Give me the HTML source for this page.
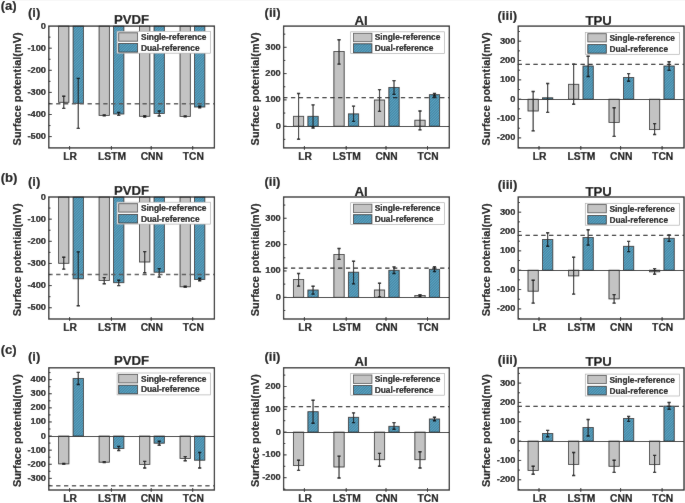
<!DOCTYPE html><html><head><meta charset="utf-8"><style>html,body{margin:0;padding:0;background:#fff;}svg{display:block;will-change:transform;}text{font-family:"Liberation Sans", sans-serif;font-weight:bold;fill:#000;stroke:#000;stroke-width:0.15;}</style></head><body>
<svg width="685" height="503" viewBox="0 0 685 503">
<defs><filter id="soft" x="0" y="0" width="1" height="1"><feConvolveMatrix order="3" kernelMatrix="0.0150 0.0300 0.0150 0.0300 0.8200 0.0300 0.0150 0.0300 0.0150" edgeMode="duplicate" preserveAlpha="true"/></filter></defs><g filter="url(#soft)">
<defs><pattern id="hatch" patternUnits="userSpaceOnUse" width="1.9" height="1.9" patternTransform="rotate(45)"><rect width="1.9" height="1.9" fill="#5aa2c0"/><rect width="0.7" height="1.9" fill="#3e7e9b"/></pattern></defs>
<rect width="685" height="503" fill="#fff"/>
<g><rect x="58.6" y="26.1" width="10.3" height="76.2" fill="#c3c3c3" stroke="#2b2b2b" stroke-width="0.85"/><rect x="73.1" y="26.1" width="10.3" height="77.2" fill="url(#hatch)" stroke="#2b2b2b" stroke-width="0.85"/><rect x="99.08" y="26.1" width="10.3" height="89.3" fill="#c3c3c3" stroke="#2b2b2b" stroke-width="0.85"/><rect x="113.58" y="26.1" width="10.3" height="87.9" fill="url(#hatch)" stroke="#2b2b2b" stroke-width="0.85"/><rect x="139.56" y="26.1" width="10.3" height="90.2" fill="#c3c3c3" stroke="#2b2b2b" stroke-width="0.85"/><rect x="154.06" y="26.1" width="10.3" height="87.4" fill="url(#hatch)" stroke="#2b2b2b" stroke-width="0.85"/><rect x="180.04" y="26.1" width="10.3" height="90.3" fill="#c3c3c3" stroke="#2b2b2b" stroke-width="0.85"/><rect x="194.54" y="26.1" width="10.3" height="80.9" fill="url(#hatch)" stroke="#2b2b2b" stroke-width="0.85"/><path d="M63.75 96.3V108.4" stroke="#222" stroke-width="1.15" fill="none"/><path d="M62.15 96.3h3.2M62.15 108.4h3.2" stroke="#111" stroke-width="1.4" fill="none"/><path d="M78.25 78.4V128.4" stroke="#222" stroke-width="1.15" fill="none"/><path d="M76.65 78.4h3.2M76.65 128.4h3.2" stroke="#111" stroke-width="1.4" fill="none"/><path d="M104.23 114.9V115.9" stroke="#222" stroke-width="1.15" fill="none"/><path d="M102.63 114.9h3.2M102.63 115.9h3.2" stroke="#111" stroke-width="1.4" fill="none"/><path d="M118.73 112.4V115.4" stroke="#222" stroke-width="1.15" fill="none"/><path d="M117.13 112.4h3.2M117.13 115.4h3.2" stroke="#111" stroke-width="1.4" fill="none"/><path d="M144.71 115.6V117" stroke="#222" stroke-width="1.15" fill="none"/><path d="M143.11 115.6h3.2M143.11 117h3.2" stroke="#111" stroke-width="1.4" fill="none"/><path d="M159.21 111V116" stroke="#222" stroke-width="1.15" fill="none"/><path d="M157.61 111h3.2M157.61 116h3.2" stroke="#111" stroke-width="1.4" fill="none"/><path d="M185.19 116V116.8" stroke="#222" stroke-width="1.15" fill="none"/><path d="M183.59 116h3.2M183.59 116.8h3.2" stroke="#111" stroke-width="1.4" fill="none"/><path d="M199.69 106.2V107.8" stroke="#222" stroke-width="1.15" fill="none"/><path d="M198.09 106.2h3.2M198.09 107.8h3.2" stroke="#111" stroke-width="1.4" fill="none"/><line x1="48.3" y1="103.7" x2="214.4" y2="103.7" stroke="#5a5a5a" stroke-width="1.5" stroke-dasharray="4.3 3.55"/><rect x="117.1" y="31.3" width="93.4" height="21.9" fill="#fff" stroke="#b0b0b0" stroke-width="0.7"/><rect x="118.7" y="32.8" width="18.9" height="8.4" fill="#c3c3c3" stroke="#555" stroke-width="0.85"/><rect x="118.7" y="43.5" width="18.9" height="8.6" fill="url(#hatch)" stroke="#333" stroke-width="0.85"/><text x="140.9" y="39.8" font-size="8.4" text-anchor="start">Single-reference</text><text x="140.9" y="50.7" font-size="8.4" text-anchor="start">Dual-reference</text><rect x="48.8" y="26.1" width="165.6" height="121.8" fill="none" stroke="#222" stroke-width="1.3"/><line x1="48.8" y1="136.6" x2="51.8" y2="136.6" stroke="#222" stroke-width="1"/><line x1="48.8" y1="125.55" x2="50.5" y2="125.55" stroke="#222" stroke-width="1"/><line x1="48.8" y1="114.5" x2="51.8" y2="114.5" stroke="#222" stroke-width="1"/><line x1="48.8" y1="103.45" x2="50.5" y2="103.45" stroke="#222" stroke-width="1"/><line x1="48.8" y1="92.4" x2="51.8" y2="92.4" stroke="#222" stroke-width="1"/><line x1="48.8" y1="81.35" x2="50.5" y2="81.35" stroke="#222" stroke-width="1"/><line x1="48.8" y1="70.3" x2="51.8" y2="70.3" stroke="#222" stroke-width="1"/><line x1="48.8" y1="59.25" x2="50.5" y2="59.25" stroke="#222" stroke-width="1"/><line x1="48.8" y1="48.2" x2="51.8" y2="48.2" stroke="#222" stroke-width="1"/><line x1="48.8" y1="37.15" x2="50.5" y2="37.15" stroke="#222" stroke-width="1"/><text x="46" y="139.1" font-size="9.3" text-anchor="end">-500</text><text x="46" y="117" font-size="9.3" text-anchor="end">-400</text><text x="46" y="94.9" font-size="9.3" text-anchor="end">-300</text><text x="46" y="72.8" font-size="9.3" text-anchor="end">-200</text><text x="46" y="50.7" font-size="9.3" text-anchor="end">-100</text><text x="46" y="28.6" font-size="9.3" text-anchor="end">0</text><line x1="69.6" y1="146" x2="69.6" y2="149.8" stroke="#222" stroke-width="1"/><text x="70.2" y="159.8" font-size="10.3" text-anchor="middle">LR</text><line x1="111.4" y1="146" x2="111.4" y2="149.8" stroke="#222" stroke-width="1"/><text x="112" y="159.8" font-size="10.3" text-anchor="middle">LSTM</text><line x1="151.2" y1="146" x2="151.2" y2="149.8" stroke="#222" stroke-width="1"/><text x="151.8" y="159.8" font-size="10.3" text-anchor="middle">CNN</text><line x1="192.7" y1="146" x2="192.7" y2="149.8" stroke="#222" stroke-width="1"/><text x="193.3" y="159.8" font-size="10.3" text-anchor="middle">TCN</text><text x="131.5" y="23.7" font-size="13.2" text-anchor="middle">PVDF</text><text x="28" y="16.6" font-size="13.1" text-anchor="start">(i)</text><text x="0" y="0" font-size="10.95" text-anchor="middle" transform="translate(20.9 88.9) rotate(-90)">Surface potential(mV)</text></g>
<g><rect x="293.4" y="116.3" width="10.3" height="9.9" fill="#c3c3c3" stroke="#2b2b2b" stroke-width="0.85"/><rect x="307.9" y="116.3" width="10.3" height="9.9" fill="url(#hatch)" stroke="#2b2b2b" stroke-width="0.85"/><rect x="333.88" y="51.5" width="10.3" height="74.7" fill="#c3c3c3" stroke="#2b2b2b" stroke-width="0.85"/><rect x="348.38" y="113.9" width="10.3" height="12.3" fill="url(#hatch)" stroke="#2b2b2b" stroke-width="0.85"/><rect x="374.36" y="100" width="10.3" height="26.2" fill="#c3c3c3" stroke="#2b2b2b" stroke-width="0.85"/><rect x="388.86" y="87.4" width="10.3" height="38.8" fill="url(#hatch)" stroke="#2b2b2b" stroke-width="0.85"/><rect x="414.84" y="120.2" width="10.3" height="6" fill="#c3c3c3" stroke="#2b2b2b" stroke-width="0.85"/><rect x="429.34" y="94.7" width="10.3" height="31.5" fill="url(#hatch)" stroke="#2b2b2b" stroke-width="0.85"/><line x1="283.6" y1="126.5" x2="449.3" y2="126.5" stroke="#111" stroke-width="1.1"/><path d="M298.55 93.5V139.3" stroke="#222" stroke-width="1.15" fill="none"/><path d="M296.95 93.5h3.2M296.95 139.3h3.2" stroke="#111" stroke-width="1.4" fill="none"/><path d="M313.05 104.9V128" stroke="#222" stroke-width="1.15" fill="none"/><path d="M311.45 104.9h3.2M311.45 128h3.2" stroke="#111" stroke-width="1.4" fill="none"/><path d="M339.03 39.8V64.1" stroke="#222" stroke-width="1.15" fill="none"/><path d="M337.43 39.8h3.2M337.43 64.1h3.2" stroke="#111" stroke-width="1.4" fill="none"/><path d="M353.53 106.1V121.4" stroke="#222" stroke-width="1.15" fill="none"/><path d="M351.93 106.1h3.2M351.93 121.4h3.2" stroke="#111" stroke-width="1.4" fill="none"/><path d="M379.51 89.6V111.4" stroke="#222" stroke-width="1.15" fill="none"/><path d="M377.91 89.6h3.2M377.91 111.4h3.2" stroke="#111" stroke-width="1.4" fill="none"/><path d="M394.01 80.6V94.4" stroke="#222" stroke-width="1.15" fill="none"/><path d="M392.41 80.6h3.2M392.41 94.4h3.2" stroke="#111" stroke-width="1.4" fill="none"/><path d="M419.99 111V129.9" stroke="#222" stroke-width="1.15" fill="none"/><path d="M418.39 111h3.2M418.39 129.9h3.2" stroke="#111" stroke-width="1.4" fill="none"/><path d="M434.49 93.5V96" stroke="#222" stroke-width="1.15" fill="none"/><path d="M432.89 93.5h3.2M432.89 96h3.2" stroke="#111" stroke-width="1.4" fill="none"/><line x1="283.1" y1="97.7" x2="449.3" y2="97.7" stroke="#1e1e1e" stroke-width="1.25" stroke-dasharray="4.3 3.55"/><rect x="350.7" y="31.8" width="93.9" height="21.7" fill="#fff" stroke="#b0b0b0" stroke-width="0.7"/><rect x="353.5" y="33.3" width="18.4" height="8.4" fill="#c3c3c3" stroke="#555" stroke-width="0.85"/><rect x="353.5" y="43.8" width="18.4" height="8.9" fill="url(#hatch)" stroke="#333" stroke-width="0.85"/><text x="374.7" y="40.3" font-size="8.4" text-anchor="start">Single-reference</text><text x="374.7" y="51.2" font-size="8.4" text-anchor="start">Dual-reference</text><rect x="283.6" y="26.1" width="165.7" height="121.8" fill="none" stroke="#222" stroke-width="1.3"/><line x1="283.6" y1="139.35" x2="285.3" y2="139.35" stroke="#222" stroke-width="1"/><line x1="283.6" y1="126.2" x2="286.6" y2="126.2" stroke="#222" stroke-width="1"/><line x1="283.6" y1="113.05" x2="285.3" y2="113.05" stroke="#222" stroke-width="1"/><line x1="283.6" y1="99.9" x2="286.6" y2="99.9" stroke="#222" stroke-width="1"/><line x1="283.6" y1="86.75" x2="285.3" y2="86.75" stroke="#222" stroke-width="1"/><line x1="283.6" y1="73.6" x2="286.6" y2="73.6" stroke="#222" stroke-width="1"/><line x1="283.6" y1="60.45" x2="285.3" y2="60.45" stroke="#222" stroke-width="1"/><line x1="283.6" y1="47.3" x2="286.6" y2="47.3" stroke="#222" stroke-width="1"/><line x1="283.6" y1="34.15" x2="285.3" y2="34.15" stroke="#222" stroke-width="1"/><text x="280.8" y="128.7" font-size="9.3" text-anchor="end">0</text><text x="280.8" y="102.4" font-size="9.3" text-anchor="end">100</text><text x="280.8" y="76.1" font-size="9.3" text-anchor="end">200</text><text x="280.8" y="49.8" font-size="9.3" text-anchor="end">300</text><line x1="304.4" y1="146" x2="304.4" y2="149.8" stroke="#222" stroke-width="1"/><text x="305" y="159.8" font-size="10.3" text-anchor="middle">LR</text><line x1="346.2" y1="146" x2="346.2" y2="149.8" stroke="#222" stroke-width="1"/><text x="346.8" y="159.8" font-size="10.3" text-anchor="middle">LSTM</text><line x1="386" y1="146" x2="386" y2="149.8" stroke="#222" stroke-width="1"/><text x="386.6" y="159.8" font-size="10.3" text-anchor="middle">CNN</text><line x1="427.5" y1="146" x2="427.5" y2="149.8" stroke="#222" stroke-width="1"/><text x="428.1" y="159.8" font-size="10.3" text-anchor="middle">TCN</text><text x="361.2" y="24.6" font-size="13.2" text-anchor="middle">Al</text><text x="264.6" y="16.6" font-size="13.1" text-anchor="start">(ii)</text><text x="0" y="0" font-size="10.95" text-anchor="middle" transform="translate(258.6 88.9) rotate(-90)">Surface potential(mV)</text></g>
<g><rect x="528" y="99.2" width="10.3" height="11.8" fill="#c3c3c3" stroke="#2b2b2b" stroke-width="0.85"/><rect x="542.5" y="97.8" width="10.3" height="1.4" fill="url(#hatch)" stroke="#2b2b2b" stroke-width="0.85"/><rect x="568.48" y="84.3" width="10.3" height="14.9" fill="#c3c3c3" stroke="#2b2b2b" stroke-width="0.85"/><rect x="582.98" y="66" width="10.3" height="33.2" fill="url(#hatch)" stroke="#2b2b2b" stroke-width="0.85"/><rect x="608.96" y="99.2" width="10.3" height="23.2" fill="#c3c3c3" stroke="#2b2b2b" stroke-width="0.85"/><rect x="623.46" y="77.5" width="10.3" height="21.7" fill="url(#hatch)" stroke="#2b2b2b" stroke-width="0.85"/><rect x="649.44" y="99.2" width="10.3" height="30.4" fill="#c3c3c3" stroke="#2b2b2b" stroke-width="0.85"/><rect x="663.94" y="66" width="10.3" height="33.2" fill="url(#hatch)" stroke="#2b2b2b" stroke-width="0.85"/><line x1="518.2" y1="99.5" x2="684" y2="99.5" stroke="#111" stroke-width="1.1"/><path d="M533.15 91.5V130.9" stroke="#222" stroke-width="1.15" fill="none"/><path d="M531.55 91.5h3.2M531.55 130.9h3.2" stroke="#111" stroke-width="1.4" fill="none"/><path d="M547.65 83.5V112.4" stroke="#222" stroke-width="1.15" fill="none"/><path d="M546.05 83.5h3.2M546.05 112.4h3.2" stroke="#111" stroke-width="1.4" fill="none"/><path d="M573.63 64.3V104.2" stroke="#222" stroke-width="1.15" fill="none"/><path d="M572.03 64.3h3.2M572.03 104.2h3.2" stroke="#111" stroke-width="1.4" fill="none"/><path d="M588.13 56.3V76.5" stroke="#222" stroke-width="1.15" fill="none"/><path d="M586.53 56.3h3.2M586.53 76.5h3.2" stroke="#111" stroke-width="1.4" fill="none"/><path d="M614.11 107.8V136.4" stroke="#222" stroke-width="1.15" fill="none"/><path d="M612.51 107.8h3.2M612.51 136.4h3.2" stroke="#111" stroke-width="1.4" fill="none"/><path d="M628.61 73.6V81.3" stroke="#222" stroke-width="1.15" fill="none"/><path d="M627.01 73.6h3.2M627.01 81.3h3.2" stroke="#111" stroke-width="1.4" fill="none"/><path d="M654.59 123.6V134.5" stroke="#222" stroke-width="1.15" fill="none"/><path d="M652.99 123.6h3.2M652.99 134.5h3.2" stroke="#111" stroke-width="1.4" fill="none"/><path d="M669.09 61.7V70.4" stroke="#222" stroke-width="1.15" fill="none"/><path d="M667.49 61.7h3.2M667.49 70.4h3.2" stroke="#111" stroke-width="1.4" fill="none"/><line x1="517.7" y1="64.3" x2="684" y2="64.3" stroke="#1e1e1e" stroke-width="1.25" stroke-dasharray="4.3 3.55"/><rect x="585.3" y="32.4" width="94.3" height="21.9" fill="#fff" stroke="#b0b0b0" stroke-width="0.7"/><rect x="587.8" y="33.7" width="18.5" height="8.2" fill="#c3c3c3" stroke="#555" stroke-width="0.85"/><rect x="587.8" y="44.6" width="18.5" height="8.6" fill="url(#hatch)" stroke="#333" stroke-width="0.85"/><text x="609.4" y="40.9" font-size="8.4" text-anchor="start">Single-reference</text><text x="609.4" y="51.8" font-size="8.4" text-anchor="start">Dual-reference</text><rect x="518.2" y="26.1" width="165.8" height="121.8" fill="none" stroke="#222" stroke-width="1.3"/><line x1="518.2" y1="147.55" x2="519.9" y2="147.55" stroke="#222" stroke-width="1"/><line x1="518.2" y1="137.88" x2="521.2" y2="137.88" stroke="#222" stroke-width="1"/><line x1="518.2" y1="128.21" x2="519.9" y2="128.21" stroke="#222" stroke-width="1"/><line x1="518.2" y1="118.54" x2="521.2" y2="118.54" stroke="#222" stroke-width="1"/><line x1="518.2" y1="108.87" x2="519.9" y2="108.87" stroke="#222" stroke-width="1"/><line x1="518.2" y1="99.2" x2="521.2" y2="99.2" stroke="#222" stroke-width="1"/><line x1="518.2" y1="89.53" x2="519.9" y2="89.53" stroke="#222" stroke-width="1"/><line x1="518.2" y1="79.86" x2="521.2" y2="79.86" stroke="#222" stroke-width="1"/><line x1="518.2" y1="70.19" x2="519.9" y2="70.19" stroke="#222" stroke-width="1"/><line x1="518.2" y1="60.52" x2="521.2" y2="60.52" stroke="#222" stroke-width="1"/><line x1="518.2" y1="50.85" x2="519.9" y2="50.85" stroke="#222" stroke-width="1"/><line x1="518.2" y1="41.18" x2="521.2" y2="41.18" stroke="#222" stroke-width="1"/><line x1="518.2" y1="31.51" x2="519.9" y2="31.51" stroke="#222" stroke-width="1"/><text x="515.4" y="140.38" font-size="9.3" text-anchor="end">-200</text><text x="515.4" y="121.04" font-size="9.3" text-anchor="end">-100</text><text x="515.4" y="101.7" font-size="9.3" text-anchor="end">0</text><text x="515.4" y="82.36" font-size="9.3" text-anchor="end">100</text><text x="515.4" y="63.02" font-size="9.3" text-anchor="end">200</text><text x="515.4" y="43.68" font-size="9.3" text-anchor="end">300</text><line x1="539" y1="146" x2="539" y2="149.8" stroke="#222" stroke-width="1"/><text x="539.6" y="159.8" font-size="10.3" text-anchor="middle">LR</text><line x1="580.8" y1="146" x2="580.8" y2="149.8" stroke="#222" stroke-width="1"/><text x="581.4" y="159.8" font-size="10.3" text-anchor="middle">LSTM</text><line x1="620.6" y1="146" x2="620.6" y2="149.8" stroke="#222" stroke-width="1"/><text x="621.2" y="159.8" font-size="10.3" text-anchor="middle">CNN</text><line x1="662.1" y1="146" x2="662.1" y2="149.8" stroke="#222" stroke-width="1"/><text x="662.7" y="159.8" font-size="10.3" text-anchor="middle">TCN</text><text x="598.7" y="24.6" font-size="13.2" text-anchor="middle">TPU</text><text x="497.5" y="19.8" font-size="13.1" text-anchor="start">(iii)</text><text x="0" y="0" font-size="10.95" text-anchor="middle" transform="translate(489.6 88.9) rotate(-90)">Surface potential(mV)</text></g>
<text x="0.7" y="9.5" font-size="13.1" text-anchor="start">(a)</text>
<g><rect x="58.6" y="197" width="10.3" height="66.3" fill="#c3c3c3" stroke="#2b2b2b" stroke-width="0.85"/><rect x="73.1" y="197" width="10.3" height="81.8" fill="url(#hatch)" stroke="#2b2b2b" stroke-width="0.85"/><rect x="99.08" y="197" width="10.3" height="83.5" fill="#c3c3c3" stroke="#2b2b2b" stroke-width="0.85"/><rect x="113.58" y="197" width="10.3" height="85.7" fill="url(#hatch)" stroke="#2b2b2b" stroke-width="0.85"/><rect x="139.56" y="197" width="10.3" height="65" fill="#c3c3c3" stroke="#2b2b2b" stroke-width="0.85"/><rect x="154.06" y="197" width="10.3" height="75.2" fill="url(#hatch)" stroke="#2b2b2b" stroke-width="0.85"/><rect x="180.04" y="197" width="10.3" height="89.8" fill="#c3c3c3" stroke="#2b2b2b" stroke-width="0.85"/><rect x="194.54" y="197" width="10.3" height="82.5" fill="url(#hatch)" stroke="#2b2b2b" stroke-width="0.85"/><path d="M63.75 257.2V269.1" stroke="#222" stroke-width="1.15" fill="none"/><path d="M62.15 257.2h3.2M62.15 269.1h3.2" stroke="#111" stroke-width="1.4" fill="none"/><path d="M78.25 251.9V305.7" stroke="#222" stroke-width="1.15" fill="none"/><path d="M76.65 251.9h3.2M76.65 305.7h3.2" stroke="#111" stroke-width="1.4" fill="none"/><path d="M104.23 277.6V283.7" stroke="#222" stroke-width="1.15" fill="none"/><path d="M102.63 277.6h3.2M102.63 283.7h3.2" stroke="#111" stroke-width="1.4" fill="none"/><path d="M118.73 280.3V285.6" stroke="#222" stroke-width="1.15" fill="none"/><path d="M117.13 280.3h3.2M117.13 285.6h3.2" stroke="#111" stroke-width="1.4" fill="none"/><path d="M144.71 251.6V272.7" stroke="#222" stroke-width="1.15" fill="none"/><path d="M143.11 251.6h3.2M143.11 272.7h3.2" stroke="#111" stroke-width="1.4" fill="none"/><path d="M159.21 268.6V277.1" stroke="#222" stroke-width="1.15" fill="none"/><path d="M157.61 268.6h3.2M157.61 277.1h3.2" stroke="#111" stroke-width="1.4" fill="none"/><path d="M185.19 286.3V287.3" stroke="#222" stroke-width="1.15" fill="none"/><path d="M183.59 286.3h3.2M183.59 287.3h3.2" stroke="#111" stroke-width="1.4" fill="none"/><path d="M199.69 278.3V280.7" stroke="#222" stroke-width="1.15" fill="none"/><path d="M198.09 278.3h3.2M198.09 280.7h3.2" stroke="#111" stroke-width="1.4" fill="none"/><line x1="48.3" y1="274.6" x2="214.4" y2="274.6" stroke="#5a5a5a" stroke-width="1.5" stroke-dasharray="4.3 3.55"/><rect x="117.1" y="202.2" width="93.4" height="21.9" fill="#fff" stroke="#b0b0b0" stroke-width="0.7"/><rect x="118.7" y="203.7" width="18.9" height="8.4" fill="#c3c3c3" stroke="#555" stroke-width="0.85"/><rect x="118.7" y="214.4" width="18.9" height="8.6" fill="url(#hatch)" stroke="#333" stroke-width="0.85"/><text x="140.9" y="210.7" font-size="8.4" text-anchor="start">Single-reference</text><text x="140.9" y="221.6" font-size="8.4" text-anchor="start">Dual-reference</text><rect x="48.8" y="197" width="165.6" height="122" fill="none" stroke="#222" stroke-width="1.3"/><line x1="48.8" y1="307.75" x2="51.8" y2="307.75" stroke="#222" stroke-width="1"/><line x1="48.8" y1="296.68" x2="50.5" y2="296.68" stroke="#222" stroke-width="1"/><line x1="48.8" y1="285.6" x2="51.8" y2="285.6" stroke="#222" stroke-width="1"/><line x1="48.8" y1="274.52" x2="50.5" y2="274.52" stroke="#222" stroke-width="1"/><line x1="48.8" y1="263.45" x2="51.8" y2="263.45" stroke="#222" stroke-width="1"/><line x1="48.8" y1="252.38" x2="50.5" y2="252.38" stroke="#222" stroke-width="1"/><line x1="48.8" y1="241.3" x2="51.8" y2="241.3" stroke="#222" stroke-width="1"/><line x1="48.8" y1="230.22" x2="50.5" y2="230.22" stroke="#222" stroke-width="1"/><line x1="48.8" y1="219.15" x2="51.8" y2="219.15" stroke="#222" stroke-width="1"/><line x1="48.8" y1="208.07" x2="50.5" y2="208.07" stroke="#222" stroke-width="1"/><text x="46" y="310.25" font-size="9.3" text-anchor="end">-500</text><text x="46" y="288.1" font-size="9.3" text-anchor="end">-400</text><text x="46" y="265.95" font-size="9.3" text-anchor="end">-300</text><text x="46" y="243.8" font-size="9.3" text-anchor="end">-200</text><text x="46" y="221.65" font-size="9.3" text-anchor="end">-100</text><text x="46" y="199.5" font-size="9.3" text-anchor="end">0</text><line x1="69.6" y1="317.1" x2="69.6" y2="320.9" stroke="#222" stroke-width="1"/><text x="70.2" y="330.9" font-size="10.3" text-anchor="middle">LR</text><line x1="111.4" y1="317.1" x2="111.4" y2="320.9" stroke="#222" stroke-width="1"/><text x="112" y="330.9" font-size="10.3" text-anchor="middle">LSTM</text><line x1="151.2" y1="317.1" x2="151.2" y2="320.9" stroke="#222" stroke-width="1"/><text x="151.8" y="330.9" font-size="10.3" text-anchor="middle">CNN</text><line x1="192.7" y1="317.1" x2="192.7" y2="320.9" stroke="#222" stroke-width="1"/><text x="193.3" y="330.9" font-size="10.3" text-anchor="middle">TCN</text><text x="131.5" y="194.6" font-size="13.2" text-anchor="middle">PVDF</text><text x="28" y="185.6" font-size="13.1" text-anchor="start">(i)</text><text x="0" y="0" font-size="10.95" text-anchor="middle" transform="translate(20.9 259.8) rotate(-90)">Surface potential(mV)</text></g>
<g><rect x="293.4" y="279.5" width="10.3" height="17.8" fill="#c3c3c3" stroke="#2b2b2b" stroke-width="0.85"/><rect x="307.9" y="290" width="10.3" height="7.3" fill="url(#hatch)" stroke="#2b2b2b" stroke-width="0.85"/><rect x="333.88" y="254.5" width="10.3" height="42.8" fill="#c3c3c3" stroke="#2b2b2b" stroke-width="0.85"/><rect x="348.38" y="272.2" width="10.3" height="25.1" fill="url(#hatch)" stroke="#2b2b2b" stroke-width="0.85"/><rect x="374.36" y="290" width="10.3" height="7.3" fill="#c3c3c3" stroke="#2b2b2b" stroke-width="0.85"/><rect x="388.86" y="270.3" width="10.3" height="27" fill="url(#hatch)" stroke="#2b2b2b" stroke-width="0.85"/><rect x="414.84" y="295.5" width="10.3" height="1.8" fill="#c3c3c3" stroke="#2b2b2b" stroke-width="0.85"/><rect x="429.34" y="269.3" width="10.3" height="28" fill="url(#hatch)" stroke="#2b2b2b" stroke-width="0.85"/><line x1="283.6" y1="297.5" x2="449.3" y2="297.5" stroke="#111" stroke-width="1.1"/><path d="M298.55 273.5V286.1" stroke="#222" stroke-width="1.15" fill="none"/><path d="M296.95 273.5h3.2M296.95 286.1h3.2" stroke="#111" stroke-width="1.4" fill="none"/><path d="M313.05 286.3V294.1" stroke="#222" stroke-width="1.15" fill="none"/><path d="M311.45 286.3h3.2M311.45 294.1h3.2" stroke="#111" stroke-width="1.4" fill="none"/><path d="M339.03 248.5V259.4" stroke="#222" stroke-width="1.15" fill="none"/><path d="M337.43 248.5h3.2M337.43 259.4h3.2" stroke="#111" stroke-width="1.4" fill="none"/><path d="M353.53 261.3V283.9" stroke="#222" stroke-width="1.15" fill="none"/><path d="M351.93 261.3h3.2M351.93 283.9h3.2" stroke="#111" stroke-width="1.4" fill="none"/><path d="M379.51 283.2V297" stroke="#222" stroke-width="1.15" fill="none"/><path d="M377.91 283.2h3.2M377.91 297h3.2" stroke="#111" stroke-width="1.4" fill="none"/><path d="M394.01 266.9V273.5" stroke="#222" stroke-width="1.15" fill="none"/><path d="M392.41 266.9h3.2M392.41 273.5h3.2" stroke="#111" stroke-width="1.4" fill="none"/><path d="M419.99 294.6V297" stroke="#222" stroke-width="1.15" fill="none"/><path d="M418.39 294.6h3.2M418.39 297h3.2" stroke="#111" stroke-width="1.4" fill="none"/><path d="M434.49 266.7V271.5" stroke="#222" stroke-width="1.15" fill="none"/><path d="M432.89 266.7h3.2M432.89 271.5h3.2" stroke="#111" stroke-width="1.4" fill="none"/><line x1="283.1" y1="268.2" x2="449.3" y2="268.2" stroke="#1e1e1e" stroke-width="1.25" stroke-dasharray="4.3 3.55"/><rect x="350.7" y="202.7" width="93.9" height="21.7" fill="#fff" stroke="#b0b0b0" stroke-width="0.7"/><rect x="353.5" y="204.2" width="18.4" height="8.4" fill="#c3c3c3" stroke="#555" stroke-width="0.85"/><rect x="353.5" y="214.7" width="18.4" height="8.9" fill="url(#hatch)" stroke="#333" stroke-width="0.85"/><text x="374.7" y="211.2" font-size="8.4" text-anchor="start">Single-reference</text><text x="374.7" y="222.1" font-size="8.4" text-anchor="start">Dual-reference</text><rect x="283.6" y="197" width="165.7" height="122" fill="none" stroke="#222" stroke-width="1.3"/><line x1="283.6" y1="310.48" x2="285.3" y2="310.48" stroke="#222" stroke-width="1"/><line x1="283.6" y1="297.3" x2="286.6" y2="297.3" stroke="#222" stroke-width="1"/><line x1="283.6" y1="284.12" x2="285.3" y2="284.12" stroke="#222" stroke-width="1"/><line x1="283.6" y1="270.95" x2="286.6" y2="270.95" stroke="#222" stroke-width="1"/><line x1="283.6" y1="257.77" x2="285.3" y2="257.77" stroke="#222" stroke-width="1"/><line x1="283.6" y1="244.6" x2="286.6" y2="244.6" stroke="#222" stroke-width="1"/><line x1="283.6" y1="231.43" x2="285.3" y2="231.43" stroke="#222" stroke-width="1"/><line x1="283.6" y1="218.25" x2="286.6" y2="218.25" stroke="#222" stroke-width="1"/><line x1="283.6" y1="205.07" x2="285.3" y2="205.07" stroke="#222" stroke-width="1"/><text x="280.8" y="299.8" font-size="9.3" text-anchor="end">0</text><text x="280.8" y="273.45" font-size="9.3" text-anchor="end">100</text><text x="280.8" y="247.1" font-size="9.3" text-anchor="end">200</text><text x="280.8" y="220.75" font-size="9.3" text-anchor="end">300</text><line x1="304.4" y1="317.1" x2="304.4" y2="320.9" stroke="#222" stroke-width="1"/><text x="305" y="330.9" font-size="10.3" text-anchor="middle">LR</text><line x1="346.2" y1="317.1" x2="346.2" y2="320.9" stroke="#222" stroke-width="1"/><text x="346.8" y="330.9" font-size="10.3" text-anchor="middle">LSTM</text><line x1="386" y1="317.1" x2="386" y2="320.9" stroke="#222" stroke-width="1"/><text x="386.6" y="330.9" font-size="10.3" text-anchor="middle">CNN</text><line x1="427.5" y1="317.1" x2="427.5" y2="320.9" stroke="#222" stroke-width="1"/><text x="428.1" y="330.9" font-size="10.3" text-anchor="middle">TCN</text><text x="361.2" y="195.5" font-size="13.2" text-anchor="middle">Al</text><text x="264.4" y="185.9" font-size="13.1" text-anchor="start">(ii)</text><text x="0" y="0" font-size="10.95" text-anchor="middle" transform="translate(258.6 259.8) rotate(-90)">Surface potential(mV)</text></g>
<g><rect x="528" y="270.2" width="10.3" height="21" fill="#c3c3c3" stroke="#2b2b2b" stroke-width="0.85"/><rect x="542.5" y="239.5" width="10.3" height="30.7" fill="url(#hatch)" stroke="#2b2b2b" stroke-width="0.85"/><rect x="568.48" y="270.2" width="10.3" height="5.7" fill="#c3c3c3" stroke="#2b2b2b" stroke-width="0.85"/><rect x="582.98" y="237.5" width="10.3" height="32.7" fill="url(#hatch)" stroke="#2b2b2b" stroke-width="0.85"/><rect x="608.96" y="270.2" width="10.3" height="28.7" fill="#c3c3c3" stroke="#2b2b2b" stroke-width="0.85"/><rect x="623.46" y="246.3" width="10.3" height="23.9" fill="url(#hatch)" stroke="#2b2b2b" stroke-width="0.85"/><rect x="649.44" y="270.2" width="10.3" height="1.6" fill="#c3c3c3" stroke="#2b2b2b" stroke-width="0.85"/><rect x="663.94" y="238.3" width="10.3" height="31.9" fill="url(#hatch)" stroke="#2b2b2b" stroke-width="0.85"/><line x1="518.2" y1="270.5" x2="684" y2="270.5" stroke="#111" stroke-width="1.1"/><path d="M533.15 280.3V303.1" stroke="#222" stroke-width="1.15" fill="none"/><path d="M531.55 280.3h3.2M531.55 303.1h3.2" stroke="#111" stroke-width="1.4" fill="none"/><path d="M547.65 232.7V246.3" stroke="#222" stroke-width="1.15" fill="none"/><path d="M546.05 232.7h3.2M546.05 246.3h3.2" stroke="#111" stroke-width="1.4" fill="none"/><path d="M573.63 257.2V294.1" stroke="#222" stroke-width="1.15" fill="none"/><path d="M572.03 257.2h3.2M572.03 294.1h3.2" stroke="#111" stroke-width="1.4" fill="none"/><path d="M588.13 229.8V245.1" stroke="#222" stroke-width="1.15" fill="none"/><path d="M586.53 229.8h3.2M586.53 245.1h3.2" stroke="#111" stroke-width="1.4" fill="none"/><path d="M614.11 294.6V303.1" stroke="#222" stroke-width="1.15" fill="none"/><path d="M612.51 294.6h3.2M612.51 303.1h3.2" stroke="#111" stroke-width="1.4" fill="none"/><path d="M628.61 241.4V251.6" stroke="#222" stroke-width="1.15" fill="none"/><path d="M627.01 241.4h3.2M627.01 251.6h3.2" stroke="#111" stroke-width="1.4" fill="none"/><path d="M654.59 268.6V274.2" stroke="#222" stroke-width="1.15" fill="none"/><path d="M652.99 268.6h3.2M652.99 274.2h3.2" stroke="#111" stroke-width="1.4" fill="none"/><path d="M669.09 234.9V241.4" stroke="#222" stroke-width="1.15" fill="none"/><path d="M667.49 234.9h3.2M667.49 241.4h3.2" stroke="#111" stroke-width="1.4" fill="none"/><line x1="517.7" y1="235.3" x2="684" y2="235.3" stroke="#1e1e1e" stroke-width="1.25" stroke-dasharray="4.3 3.55"/><rect x="585.3" y="203.3" width="94.3" height="21.9" fill="#fff" stroke="#b0b0b0" stroke-width="0.7"/><rect x="587.8" y="204.6" width="18.5" height="8.2" fill="#c3c3c3" stroke="#555" stroke-width="0.85"/><rect x="587.8" y="215.5" width="18.5" height="8.6" fill="url(#hatch)" stroke="#333" stroke-width="0.85"/><text x="609.4" y="211.8" font-size="8.4" text-anchor="start">Single-reference</text><text x="609.4" y="222.7" font-size="8.4" text-anchor="start">Dual-reference</text><rect x="518.2" y="197" width="165.8" height="122" fill="none" stroke="#222" stroke-width="1.3"/><line x1="518.2" y1="318.55" x2="519.9" y2="318.55" stroke="#222" stroke-width="1"/><line x1="518.2" y1="308.88" x2="521.2" y2="308.88" stroke="#222" stroke-width="1"/><line x1="518.2" y1="299.21" x2="519.9" y2="299.21" stroke="#222" stroke-width="1"/><line x1="518.2" y1="289.54" x2="521.2" y2="289.54" stroke="#222" stroke-width="1"/><line x1="518.2" y1="279.87" x2="519.9" y2="279.87" stroke="#222" stroke-width="1"/><line x1="518.2" y1="270.2" x2="521.2" y2="270.2" stroke="#222" stroke-width="1"/><line x1="518.2" y1="260.53" x2="519.9" y2="260.53" stroke="#222" stroke-width="1"/><line x1="518.2" y1="250.86" x2="521.2" y2="250.86" stroke="#222" stroke-width="1"/><line x1="518.2" y1="241.19" x2="519.9" y2="241.19" stroke="#222" stroke-width="1"/><line x1="518.2" y1="231.52" x2="521.2" y2="231.52" stroke="#222" stroke-width="1"/><line x1="518.2" y1="221.85" x2="519.9" y2="221.85" stroke="#222" stroke-width="1"/><line x1="518.2" y1="212.18" x2="521.2" y2="212.18" stroke="#222" stroke-width="1"/><line x1="518.2" y1="202.51" x2="519.9" y2="202.51" stroke="#222" stroke-width="1"/><text x="515.4" y="311.38" font-size="9.3" text-anchor="end">-200</text><text x="515.4" y="292.04" font-size="9.3" text-anchor="end">-100</text><text x="515.4" y="272.7" font-size="9.3" text-anchor="end">0</text><text x="515.4" y="253.36" font-size="9.3" text-anchor="end">100</text><text x="515.4" y="234.02" font-size="9.3" text-anchor="end">200</text><text x="515.4" y="214.68" font-size="9.3" text-anchor="end">300</text><line x1="539" y1="317.1" x2="539" y2="320.9" stroke="#222" stroke-width="1"/><text x="539.6" y="330.9" font-size="10.3" text-anchor="middle">LR</text><line x1="580.8" y1="317.1" x2="580.8" y2="320.9" stroke="#222" stroke-width="1"/><text x="581.4" y="330.9" font-size="10.3" text-anchor="middle">LSTM</text><line x1="620.6" y1="317.1" x2="620.6" y2="320.9" stroke="#222" stroke-width="1"/><text x="621.2" y="330.9" font-size="10.3" text-anchor="middle">CNN</text><line x1="662.1" y1="317.1" x2="662.1" y2="320.9" stroke="#222" stroke-width="1"/><text x="662.7" y="330.9" font-size="10.3" text-anchor="middle">TCN</text><text x="598.7" y="195.5" font-size="13.2" text-anchor="middle">TPU</text><text x="497.7" y="189" font-size="13.1" text-anchor="start">(iii)</text><text x="0" y="0" font-size="10.95" text-anchor="middle" transform="translate(489.6 259.8) rotate(-90)">Surface potential(mV)</text></g>
<text x="0.7" y="181.7" font-size="13.1" text-anchor="start">(b)</text>
<g><rect x="58.6" y="436.05" width="10.3" height="27.85" fill="#c3c3c3" stroke="#2b2b2b" stroke-width="0.85"/><rect x="73.1" y="378.4" width="10.3" height="57.65" fill="url(#hatch)" stroke="#2b2b2b" stroke-width="0.85"/><rect x="99.08" y="436.05" width="10.3" height="26.15" fill="#c3c3c3" stroke="#2b2b2b" stroke-width="0.85"/><rect x="113.58" y="436.05" width="10.3" height="12.55" fill="url(#hatch)" stroke="#2b2b2b" stroke-width="0.85"/><rect x="139.56" y="436.05" width="10.3" height="28.35" fill="#c3c3c3" stroke="#2b2b2b" stroke-width="0.85"/><rect x="154.06" y="436.05" width="10.3" height="7.15" fill="url(#hatch)" stroke="#2b2b2b" stroke-width="0.85"/><rect x="180.04" y="436.05" width="10.3" height="22.45" fill="#c3c3c3" stroke="#2b2b2b" stroke-width="0.85"/><rect x="194.54" y="436.05" width="10.3" height="24.15" fill="url(#hatch)" stroke="#2b2b2b" stroke-width="0.85"/><line x1="48.8" y1="436.5" x2="214.4" y2="436.5" stroke="#111" stroke-width="1.1"/><path d="M63.75 463.4V464.4" stroke="#222" stroke-width="1.15" fill="none"/><path d="M62.15 463.4h3.2M62.15 464.4h3.2" stroke="#111" stroke-width="1.4" fill="none"/><path d="M78.25 372.4V384.5" stroke="#222" stroke-width="1.15" fill="none"/><path d="M76.65 372.4h3.2M76.65 384.5h3.2" stroke="#111" stroke-width="1.4" fill="none"/><path d="M104.23 461.8V462.6" stroke="#222" stroke-width="1.15" fill="none"/><path d="M102.63 461.8h3.2M102.63 462.6h3.2" stroke="#111" stroke-width="1.4" fill="none"/><path d="M118.73 446.4V450.5" stroke="#222" stroke-width="1.15" fill="none"/><path d="M117.13 446.4h3.2M117.13 450.5h3.2" stroke="#111" stroke-width="1.4" fill="none"/><path d="M144.71 461.4V468" stroke="#222" stroke-width="1.15" fill="none"/><path d="M143.11 461.4h3.2M143.11 468h3.2" stroke="#111" stroke-width="1.4" fill="none"/><path d="M159.21 441.3V445.2" stroke="#222" stroke-width="1.15" fill="none"/><path d="M157.61 441.3h3.2M157.61 445.2h3.2" stroke="#111" stroke-width="1.4" fill="none"/><path d="M185.19 456.6V460.7" stroke="#222" stroke-width="1.15" fill="none"/><path d="M183.59 456.6h3.2M183.59 460.7h3.2" stroke="#111" stroke-width="1.4" fill="none"/><path d="M199.69 452.5V468" stroke="#222" stroke-width="1.15" fill="none"/><path d="M198.09 452.5h3.2M198.09 468h3.2" stroke="#111" stroke-width="1.4" fill="none"/><line x1="48.3" y1="485.7" x2="214.4" y2="485.7" stroke="#5a5a5a" stroke-width="1.5" stroke-dasharray="4.3 3.55"/><rect x="117.1" y="373" width="93.4" height="21.9" fill="#fff" stroke="#b0b0b0" stroke-width="0.7"/><rect x="118.7" y="374.5" width="18.9" height="8.4" fill="#c3c3c3" stroke="#555" stroke-width="0.85"/><rect x="118.7" y="385.2" width="18.9" height="8.6" fill="url(#hatch)" stroke="#333" stroke-width="0.85"/><text x="140.9" y="381.5" font-size="8.4" text-anchor="start">Single-reference</text><text x="140.9" y="392.4" font-size="8.4" text-anchor="start">Dual-reference</text><rect x="48.8" y="367.8" width="165.6" height="122.2" fill="none" stroke="#222" stroke-width="1.3"/><line x1="48.8" y1="485.4" x2="50.5" y2="485.4" stroke="#222" stroke-width="1"/><line x1="48.8" y1="478.35" x2="51.8" y2="478.35" stroke="#222" stroke-width="1"/><line x1="48.8" y1="471.3" x2="50.5" y2="471.3" stroke="#222" stroke-width="1"/><line x1="48.8" y1="464.25" x2="51.8" y2="464.25" stroke="#222" stroke-width="1"/><line x1="48.8" y1="457.2" x2="50.5" y2="457.2" stroke="#222" stroke-width="1"/><line x1="48.8" y1="450.15" x2="51.8" y2="450.15" stroke="#222" stroke-width="1"/><line x1="48.8" y1="443.1" x2="50.5" y2="443.1" stroke="#222" stroke-width="1"/><line x1="48.8" y1="436.05" x2="51.8" y2="436.05" stroke="#222" stroke-width="1"/><line x1="48.8" y1="429" x2="50.5" y2="429" stroke="#222" stroke-width="1"/><line x1="48.8" y1="421.95" x2="51.8" y2="421.95" stroke="#222" stroke-width="1"/><line x1="48.8" y1="414.9" x2="50.5" y2="414.9" stroke="#222" stroke-width="1"/><line x1="48.8" y1="407.85" x2="51.8" y2="407.85" stroke="#222" stroke-width="1"/><line x1="48.8" y1="400.8" x2="50.5" y2="400.8" stroke="#222" stroke-width="1"/><line x1="48.8" y1="393.75" x2="51.8" y2="393.75" stroke="#222" stroke-width="1"/><line x1="48.8" y1="386.7" x2="50.5" y2="386.7" stroke="#222" stroke-width="1"/><line x1="48.8" y1="379.65" x2="51.8" y2="379.65" stroke="#222" stroke-width="1"/><line x1="48.8" y1="372.6" x2="50.5" y2="372.6" stroke="#222" stroke-width="1"/><text x="46" y="480.85" font-size="9.3" text-anchor="end">-300</text><text x="46" y="466.75" font-size="9.3" text-anchor="end">-200</text><text x="46" y="452.65" font-size="9.3" text-anchor="end">-100</text><text x="46" y="438.55" font-size="9.3" text-anchor="end">0</text><text x="46" y="424.45" font-size="9.3" text-anchor="end">100</text><text x="46" y="410.35" font-size="9.3" text-anchor="end">200</text><text x="46" y="396.25" font-size="9.3" text-anchor="end">300</text><text x="46" y="382.15" font-size="9.3" text-anchor="end">400</text><line x1="69.6" y1="488.1" x2="69.6" y2="491.9" stroke="#222" stroke-width="1"/><text x="70.2" y="501.9" font-size="10.3" text-anchor="middle">LR</text><line x1="111.4" y1="488.1" x2="111.4" y2="491.9" stroke="#222" stroke-width="1"/><text x="112" y="501.9" font-size="10.3" text-anchor="middle">LSTM</text><line x1="151.2" y1="488.1" x2="151.2" y2="491.9" stroke="#222" stroke-width="1"/><text x="151.8" y="501.9" font-size="10.3" text-anchor="middle">CNN</text><line x1="192.7" y1="488.1" x2="192.7" y2="491.9" stroke="#222" stroke-width="1"/><text x="193.3" y="501.9" font-size="10.3" text-anchor="middle">TCN</text><text x="131.5" y="365.4" font-size="13.2" text-anchor="middle">PVDF</text><text x="28" y="360.9" font-size="13.1" text-anchor="start">(i)</text><text x="0" y="0" font-size="10.95" text-anchor="middle" transform="translate(20.9 430.6) rotate(-90)">Surface potential(mV)</text></g>
<g><rect x="293.4" y="432.1" width="10.3" height="33.5" fill="#c3c3c3" stroke="#2b2b2b" stroke-width="0.85"/><rect x="307.9" y="411.7" width="10.3" height="20.4" fill="url(#hatch)" stroke="#2b2b2b" stroke-width="0.85"/><rect x="333.88" y="432.1" width="10.3" height="34.9" fill="#c3c3c3" stroke="#2b2b2b" stroke-width="0.85"/><rect x="348.38" y="417.3" width="10.3" height="14.8" fill="url(#hatch)" stroke="#2b2b2b" stroke-width="0.85"/><rect x="374.36" y="432.1" width="10.3" height="27.6" fill="#c3c3c3" stroke="#2b2b2b" stroke-width="0.85"/><rect x="388.86" y="426.3" width="10.3" height="5.8" fill="url(#hatch)" stroke="#2b2b2b" stroke-width="0.85"/><rect x="414.84" y="432.1" width="10.3" height="27.6" fill="#c3c3c3" stroke="#2b2b2b" stroke-width="0.85"/><rect x="429.34" y="419" width="10.3" height="13.1" fill="url(#hatch)" stroke="#2b2b2b" stroke-width="0.85"/><line x1="283.6" y1="432.5" x2="449.3" y2="432.5" stroke="#111" stroke-width="1.1"/><path d="M298.55 460.2V470.4" stroke="#222" stroke-width="1.15" fill="none"/><path d="M296.95 460.2h3.2M296.95 470.4h3.2" stroke="#111" stroke-width="1.4" fill="none"/><path d="M313.05 400.3V423.3" stroke="#222" stroke-width="1.15" fill="none"/><path d="M311.45 400.3h3.2M311.45 423.3h3.2" stroke="#111" stroke-width="1.4" fill="none"/><path d="M339.03 456.1V478" stroke="#222" stroke-width="1.15" fill="none"/><path d="M337.43 456.1h3.2M337.43 478h3.2" stroke="#111" stroke-width="1.4" fill="none"/><path d="M353.53 412.9V422.6" stroke="#222" stroke-width="1.15" fill="none"/><path d="M351.93 412.9h3.2M351.93 422.6h3.2" stroke="#111" stroke-width="1.4" fill="none"/><path d="M379.51 453.4V466.3" stroke="#222" stroke-width="1.15" fill="none"/><path d="M377.91 453.4h3.2M377.91 466.3h3.2" stroke="#111" stroke-width="1.4" fill="none"/><path d="M394.01 422.6V429.2" stroke="#222" stroke-width="1.15" fill="none"/><path d="M392.41 422.6h3.2M392.41 429.2h3.2" stroke="#111" stroke-width="1.4" fill="none"/><path d="M419.99 451.7V468" stroke="#222" stroke-width="1.15" fill="none"/><path d="M418.39 451.7h3.2M418.39 468h3.2" stroke="#111" stroke-width="1.4" fill="none"/><path d="M434.49 417.3V420.7" stroke="#222" stroke-width="1.15" fill="none"/><path d="M432.89 417.3h3.2M432.89 420.7h3.2" stroke="#111" stroke-width="1.4" fill="none"/><line x1="283.1" y1="406.6" x2="449.3" y2="406.6" stroke="#1e1e1e" stroke-width="1.25" stroke-dasharray="4.3 3.55"/><rect x="350.7" y="373.5" width="93.9" height="21.7" fill="#fff" stroke="#b0b0b0" stroke-width="0.7"/><rect x="353.5" y="375" width="18.4" height="8.4" fill="#c3c3c3" stroke="#555" stroke-width="0.85"/><rect x="353.5" y="385.5" width="18.4" height="8.9" fill="url(#hatch)" stroke="#333" stroke-width="0.85"/><text x="374.7" y="382" font-size="8.4" text-anchor="start">Single-reference</text><text x="374.7" y="392.9" font-size="8.4" text-anchor="start">Dual-reference</text><rect x="283.6" y="367.8" width="165.7" height="122.2" fill="none" stroke="#222" stroke-width="1.3"/><line x1="283.6" y1="489.1" x2="285.3" y2="489.1" stroke="#222" stroke-width="1"/><line x1="283.6" y1="477.7" x2="286.6" y2="477.7" stroke="#222" stroke-width="1"/><line x1="283.6" y1="466.3" x2="285.3" y2="466.3" stroke="#222" stroke-width="1"/><line x1="283.6" y1="454.9" x2="286.6" y2="454.9" stroke="#222" stroke-width="1"/><line x1="283.6" y1="443.5" x2="285.3" y2="443.5" stroke="#222" stroke-width="1"/><line x1="283.6" y1="432.1" x2="286.6" y2="432.1" stroke="#222" stroke-width="1"/><line x1="283.6" y1="420.7" x2="285.3" y2="420.7" stroke="#222" stroke-width="1"/><line x1="283.6" y1="409.3" x2="286.6" y2="409.3" stroke="#222" stroke-width="1"/><line x1="283.6" y1="397.9" x2="285.3" y2="397.9" stroke="#222" stroke-width="1"/><line x1="283.6" y1="386.5" x2="286.6" y2="386.5" stroke="#222" stroke-width="1"/><line x1="283.6" y1="375.1" x2="285.3" y2="375.1" stroke="#222" stroke-width="1"/><text x="280.8" y="480.2" font-size="9.3" text-anchor="end">-200</text><text x="280.8" y="457.4" font-size="9.3" text-anchor="end">-100</text><text x="280.8" y="434.6" font-size="9.3" text-anchor="end">0</text><text x="280.8" y="411.8" font-size="9.3" text-anchor="end">100</text><text x="280.8" y="389" font-size="9.3" text-anchor="end">200</text><line x1="304.4" y1="488.1" x2="304.4" y2="491.9" stroke="#222" stroke-width="1"/><text x="305" y="501.9" font-size="10.3" text-anchor="middle">LR</text><line x1="346.2" y1="488.1" x2="346.2" y2="491.9" stroke="#222" stroke-width="1"/><text x="346.8" y="501.9" font-size="10.3" text-anchor="middle">LSTM</text><line x1="386" y1="488.1" x2="386" y2="491.9" stroke="#222" stroke-width="1"/><text x="386.6" y="501.9" font-size="10.3" text-anchor="middle">CNN</text><line x1="427.5" y1="488.1" x2="427.5" y2="491.9" stroke="#222" stroke-width="1"/><text x="428.1" y="501.9" font-size="10.3" text-anchor="middle">TCN</text><text x="361.2" y="366.3" font-size="13.2" text-anchor="middle">Al</text><text x="264.4" y="361.1" font-size="13.1" text-anchor="start">(ii)</text><text x="0" y="0" font-size="10.95" text-anchor="middle" transform="translate(258.6 430.6) rotate(-90)">Surface potential(mV)</text></g>
<g><rect x="528" y="441.1" width="10.3" height="29.3" fill="#c3c3c3" stroke="#2b2b2b" stroke-width="0.85"/><rect x="542.5" y="433.5" width="10.3" height="7.6" fill="url(#hatch)" stroke="#2b2b2b" stroke-width="0.85"/><rect x="568.48" y="441.1" width="10.3" height="23.3" fill="#c3c3c3" stroke="#2b2b2b" stroke-width="0.85"/><rect x="582.98" y="427.5" width="10.3" height="13.6" fill="url(#hatch)" stroke="#2b2b2b" stroke-width="0.85"/><rect x="608.96" y="441.1" width="10.3" height="25.2" fill="#c3c3c3" stroke="#2b2b2b" stroke-width="0.85"/><rect x="623.46" y="418.5" width="10.3" height="22.6" fill="url(#hatch)" stroke="#2b2b2b" stroke-width="0.85"/><rect x="649.44" y="441.1" width="10.3" height="23.5" fill="#c3c3c3" stroke="#2b2b2b" stroke-width="0.85"/><rect x="663.94" y="406.1" width="10.3" height="35" fill="url(#hatch)" stroke="#2b2b2b" stroke-width="0.85"/><line x1="518.2" y1="441.5" x2="684" y2="441.5" stroke="#111" stroke-width="1.1"/><path d="M533.15 466.3V474.3" stroke="#222" stroke-width="1.15" fill="none"/><path d="M531.55 466.3h3.2M531.55 474.3h3.2" stroke="#111" stroke-width="1.4" fill="none"/><path d="M547.65 430.4V436.7" stroke="#222" stroke-width="1.15" fill="none"/><path d="M546.05 430.4h3.2M546.05 436.7h3.2" stroke="#111" stroke-width="1.4" fill="none"/><path d="M573.63 452.5V475.5" stroke="#222" stroke-width="1.15" fill="none"/><path d="M572.03 452.5h3.2M572.03 475.5h3.2" stroke="#111" stroke-width="1.4" fill="none"/><path d="M588.13 419.5V436" stroke="#222" stroke-width="1.15" fill="none"/><path d="M586.53 419.5h3.2M586.53 436h3.2" stroke="#111" stroke-width="1.4" fill="none"/><path d="M614.11 460.2V472.4" stroke="#222" stroke-width="1.15" fill="none"/><path d="M612.51 460.2h3.2M612.51 472.4h3.2" stroke="#111" stroke-width="1.4" fill="none"/><path d="M628.61 416.5V421.4" stroke="#222" stroke-width="1.15" fill="none"/><path d="M627.01 416.5h3.2M627.01 421.4h3.2" stroke="#111" stroke-width="1.4" fill="none"/><path d="M654.59 455.4V472.4" stroke="#222" stroke-width="1.15" fill="none"/><path d="M652.99 455.4h3.2M652.99 472.4h3.2" stroke="#111" stroke-width="1.4" fill="none"/><path d="M669.09 402.5V409.3" stroke="#222" stroke-width="1.15" fill="none"/><path d="M667.49 402.5h3.2M667.49 409.3h3.2" stroke="#111" stroke-width="1.4" fill="none"/><line x1="517.7" y1="406.3" x2="684" y2="406.3" stroke="#1e1e1e" stroke-width="1.25" stroke-dasharray="4.3 3.55"/><rect x="585.3" y="374.1" width="94.3" height="21.9" fill="#fff" stroke="#b0b0b0" stroke-width="0.7"/><rect x="587.8" y="375.4" width="18.5" height="8.2" fill="#c3c3c3" stroke="#555" stroke-width="0.85"/><rect x="587.8" y="386.3" width="18.5" height="8.6" fill="url(#hatch)" stroke="#333" stroke-width="0.85"/><text x="609.4" y="382.6" font-size="8.4" text-anchor="start">Single-reference</text><text x="609.4" y="393.5" font-size="8.4" text-anchor="start">Dual-reference</text><rect x="518.2" y="367.8" width="165.8" height="122.2" fill="none" stroke="#222" stroke-width="1.3"/><line x1="518.2" y1="489.45" x2="519.9" y2="489.45" stroke="#222" stroke-width="1"/><line x1="518.2" y1="479.78" x2="521.2" y2="479.78" stroke="#222" stroke-width="1"/><line x1="518.2" y1="470.11" x2="519.9" y2="470.11" stroke="#222" stroke-width="1"/><line x1="518.2" y1="460.44" x2="521.2" y2="460.44" stroke="#222" stroke-width="1"/><line x1="518.2" y1="450.77" x2="519.9" y2="450.77" stroke="#222" stroke-width="1"/><line x1="518.2" y1="441.1" x2="521.2" y2="441.1" stroke="#222" stroke-width="1"/><line x1="518.2" y1="431.43" x2="519.9" y2="431.43" stroke="#222" stroke-width="1"/><line x1="518.2" y1="421.76" x2="521.2" y2="421.76" stroke="#222" stroke-width="1"/><line x1="518.2" y1="412.09" x2="519.9" y2="412.09" stroke="#222" stroke-width="1"/><line x1="518.2" y1="402.42" x2="521.2" y2="402.42" stroke="#222" stroke-width="1"/><line x1="518.2" y1="392.75" x2="519.9" y2="392.75" stroke="#222" stroke-width="1"/><line x1="518.2" y1="383.08" x2="521.2" y2="383.08" stroke="#222" stroke-width="1"/><line x1="518.2" y1="373.41" x2="519.9" y2="373.41" stroke="#222" stroke-width="1"/><text x="515.4" y="482.28" font-size="9.3" text-anchor="end">-200</text><text x="515.4" y="462.94" font-size="9.3" text-anchor="end">-100</text><text x="515.4" y="443.6" font-size="9.3" text-anchor="end">0</text><text x="515.4" y="424.26" font-size="9.3" text-anchor="end">100</text><text x="515.4" y="404.92" font-size="9.3" text-anchor="end">200</text><text x="515.4" y="385.58" font-size="9.3" text-anchor="end">300</text><line x1="539" y1="488.1" x2="539" y2="491.9" stroke="#222" stroke-width="1"/><text x="539.6" y="501.9" font-size="10.3" text-anchor="middle">LR</text><line x1="580.8" y1="488.1" x2="580.8" y2="491.9" stroke="#222" stroke-width="1"/><text x="581.4" y="501.9" font-size="10.3" text-anchor="middle">LSTM</text><line x1="620.6" y1="488.1" x2="620.6" y2="491.9" stroke="#222" stroke-width="1"/><text x="621.2" y="501.9" font-size="10.3" text-anchor="middle">CNN</text><line x1="662.1" y1="488.1" x2="662.1" y2="491.9" stroke="#222" stroke-width="1"/><text x="662.7" y="501.9" font-size="10.3" text-anchor="middle">TCN</text><text x="598.7" y="366.3" font-size="13.2" text-anchor="middle">TPU</text><text x="497.7" y="364.1" font-size="13.1" text-anchor="start">(iii)</text><text x="0" y="0" font-size="10.95" text-anchor="middle" transform="translate(489.6 430.6) rotate(-90)">Surface potential(mV)</text></g>
<text x="0.7" y="353.9" font-size="13.1" text-anchor="start">(c)</text>
</g></svg></body></html>
